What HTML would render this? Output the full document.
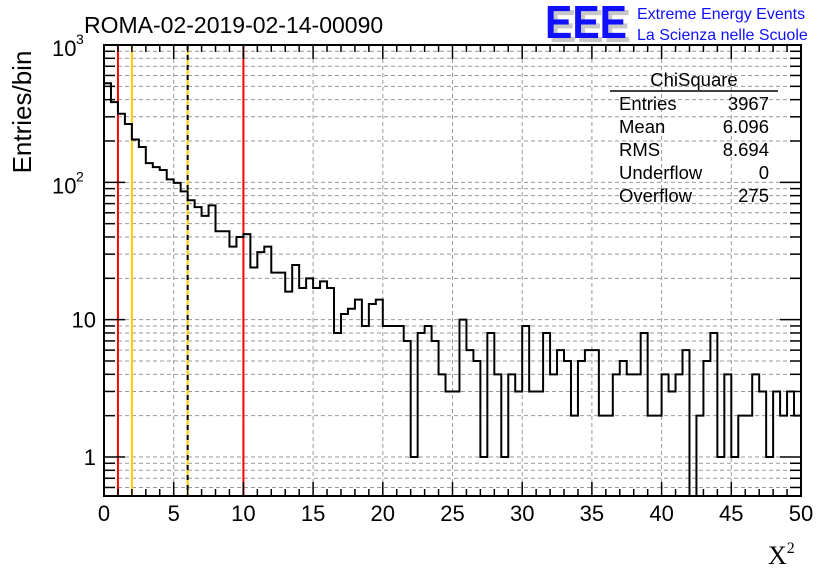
<!DOCTYPE html>
<html><head><meta charset="utf-8"><style>
html,body{margin:0;padding:0;background:#fff;width:836px;height:572px;overflow:hidden}
svg{display:block;font-family:"Liberation Sans",Arial,sans-serif}
</style></head><body>
<svg id="chart" width="836" height="572" viewBox="0 0 836 572" xmlns="http://www.w3.org/2000/svg">
<rect width="836" height="572" fill="#fff"/>
<g id="grid"></g>
<g id="marks"></g>
<g id="axes"></g>
<text x="84" y="33" font-size="23">ROMA-02-2019-02-14-00090</text>
<g>
<text x="549" y="42" font-size="46" font-weight="bold" fill="#c8c8c8" textLength="82" lengthAdjust="spacingAndGlyphs">EEE</text>
<text x="545" y="38" font-size="46" font-weight="bold" fill="#1010ff" textLength="82" lengthAdjust="spacingAndGlyphs">EEE</text>
<text x="637" y="19" font-size="16" fill="#1010ff">Extreme Energy Events</text>
<text x="637" y="40" font-size="16" fill="#1010ff">La Scienza nelle Scuole</text>
</g>
<g font-size="18.5">
<text x="694" y="86" text-anchor="middle">ChiSquare</text>
<line x1="610" y1="91" x2="778" y2="91" stroke="#000" stroke-width="1.5"/>
<text x="619" y="110">Entries</text><text x="769" y="110" text-anchor="end">3967</text>
<text x="619" y="133">Mean</text><text x="769" y="133" text-anchor="end">6.096</text>
<text x="619" y="156">RMS</text><text x="769" y="156" text-anchor="end">8.694</text>
<text x="619" y="179">Underflow</text><text x="769" y="179" text-anchor="end">0</text>
<text x="619" y="202">Overflow</text><text x="769" y="202" text-anchor="end">275</text>
</g>
<text transform="translate(31,112) rotate(-90)" text-anchor="middle" font-size="26">Entries/bin</text>
<text x="768" y="564" font-size="26" font-family="Liberation Serif,serif">X<tspan dy="-11" font-size="16">2</tspan></text>
</svg>
<script>
const counts = [527,384,316,266,205,181,138,129,123,105,99,86,74,66,57,68,44,44,34,40,42,24,31,34,22,22,16,25,17,20,17,19,17,8,11,12,14,9,13,14,9,9,9,7,1,8,9,7,4,3,3,10,6,5,1,8,4,1,4,3,9,3,3,8,4,6,5,2,5,6,6,2,2,4,5,4,4,8,2,2,4,3,4,6,0,2,5,8,1,4,1,2,2,4,3,1,3,2,3,2];
const binWidth = 0.5;
const xTicks = [0,5,10,15,20,25,30,35,40,45,50];
const cutLines = [1,2,6,10];
const cutColors = ['#ff0000','#ffcc00','#ffcc00','#ff0000'];

const L=104,R=801,T=45,B=496,XMIN=0,XMAX=50,YMIN=0.52,YMAX=1000;
const NS='http://www.w3.org/2000/svg';
function xs(v){return L+(v-XMIN)/(XMAX-XMIN)*(R-L);}
function ys(v){const lv=Math.log10(Math.max(v,1e-6));return B-(lv-Math.log10(YMIN))/(Math.log10(YMAX)-Math.log10(YMIN))*(B-T);}
function mk(tag,attrs,parent){const e=document.createElementNS(NS,tag);for(const k in attrs)e.setAttribute(k,attrs[k]);parent.appendChild(e);return e;}
const grid=document.getElementById('grid'),marks=document.getElementById('marks'),axes=document.getElementById('axes');

const yGrid=[];
for(let d=-1;d<=2;d++)for(let m=1;m<=9;m++){const v=m*Math.pow(10,d);if(v>=YMIN&&v<=YMAX)yGrid.push(v);}
yGrid.forEach(v=>{const g=mk('line',{x1:L,x2:R,y1:ys(v),y2:ys(v),stroke:'#999','stroke-width':1,'stroke-dasharray':'4,3'},grid);

});
xTicks.forEach(v=>{if(v>XMIN&&v<XMAX){const g=mk('line',{x1:xs(v),x2:xs(v),y1:T,y2:B,stroke:'#999','stroke-width':1,'stroke-dasharray':'4,3'},grid);

}});

cutLines.forEach((v,i)=>{const c=mk('line',{x1:xs(v),x2:xs(v),y1:T,y2:B,stroke:cutColors[i],'stroke-width':2},marks);


if(v===6){const d=mk('line',{x1:xs(v),x2:xs(v),y1:T,y2:B,stroke:'#000','stroke-width':2,'stroke-dasharray':'5,5'},marks);

}});

let d='';
counts.forEach((c,i)=>{const x0=xs(i*binWidth),x1=xs((i+1)*binWidth);const y=c>0?Math.min(ys(c),B+20):B+20;
d+=(i===0?'M'+x0+','+y:'L'+x0+','+y)+'L'+x1+','+y;});
const cp=mk('clipPath',{id:'pc'},marks);mk('rect',{x:L,y:T,width:R-L,height:B-T},cp);
const h=mk('path',{d:d,fill:'none',stroke:'#000','stroke-width':2,'clip-path':'url(#pc)'},marks);



const f=mk('rect',{x:L,y:T,width:R-L,height:B-T,fill:'none',stroke:'#000','stroke-width':2},axes);


for(let v=XMIN;v<=XMAX;v+=1){const maj=v%5===0;const len=maj?14:7;
mk('line',{x1:xs(v),x2:xs(v),y1:B,y2:B-len,stroke:'#000','stroke-width':1.5},axes);
mk('line',{x1:xs(v),x2:xs(v),y1:T,y2:T+len,stroke:'#000','stroke-width':1.5},axes);}
xTicks.forEach(v=>{const t=mk('text',{x:xs(v),y:521,'text-anchor':'middle','font-size':22},axes);t.textContent=v;

});
yGrid.concat([1000]).forEach(v=>{const maj=Math.abs(Math.log10(v)-Math.round(Math.log10(v)))<1e-9;const len=maj?21:11;
mk('line',{x1:L,x2:L+len,y1:ys(v),y2:ys(v),stroke:'#000','stroke-width':1.5},axes);
mk('line',{x1:R,x2:R-len,y1:ys(v),y2:ys(v),stroke:'#000','stroke-width':1.5},axes);});
const yl=[[1,'1'],[10,'10']];
yl.forEach(([v,s])=>{const t=mk('text',{x:96,y:ys(v)+8,'text-anchor':'end','font-size':22},axes);t.textContent=s;

});
[[100,'2'],[1000,'3']].forEach(([v,e])=>{const t=mk('text',{x:52,y:ys(v)+11,'font-size':22},axes);t.textContent='10';


const s=mk('text',{x:76,y:ys(v)-1,'font-size':14},axes);s.textContent=e;});
</script>
</body></html>
